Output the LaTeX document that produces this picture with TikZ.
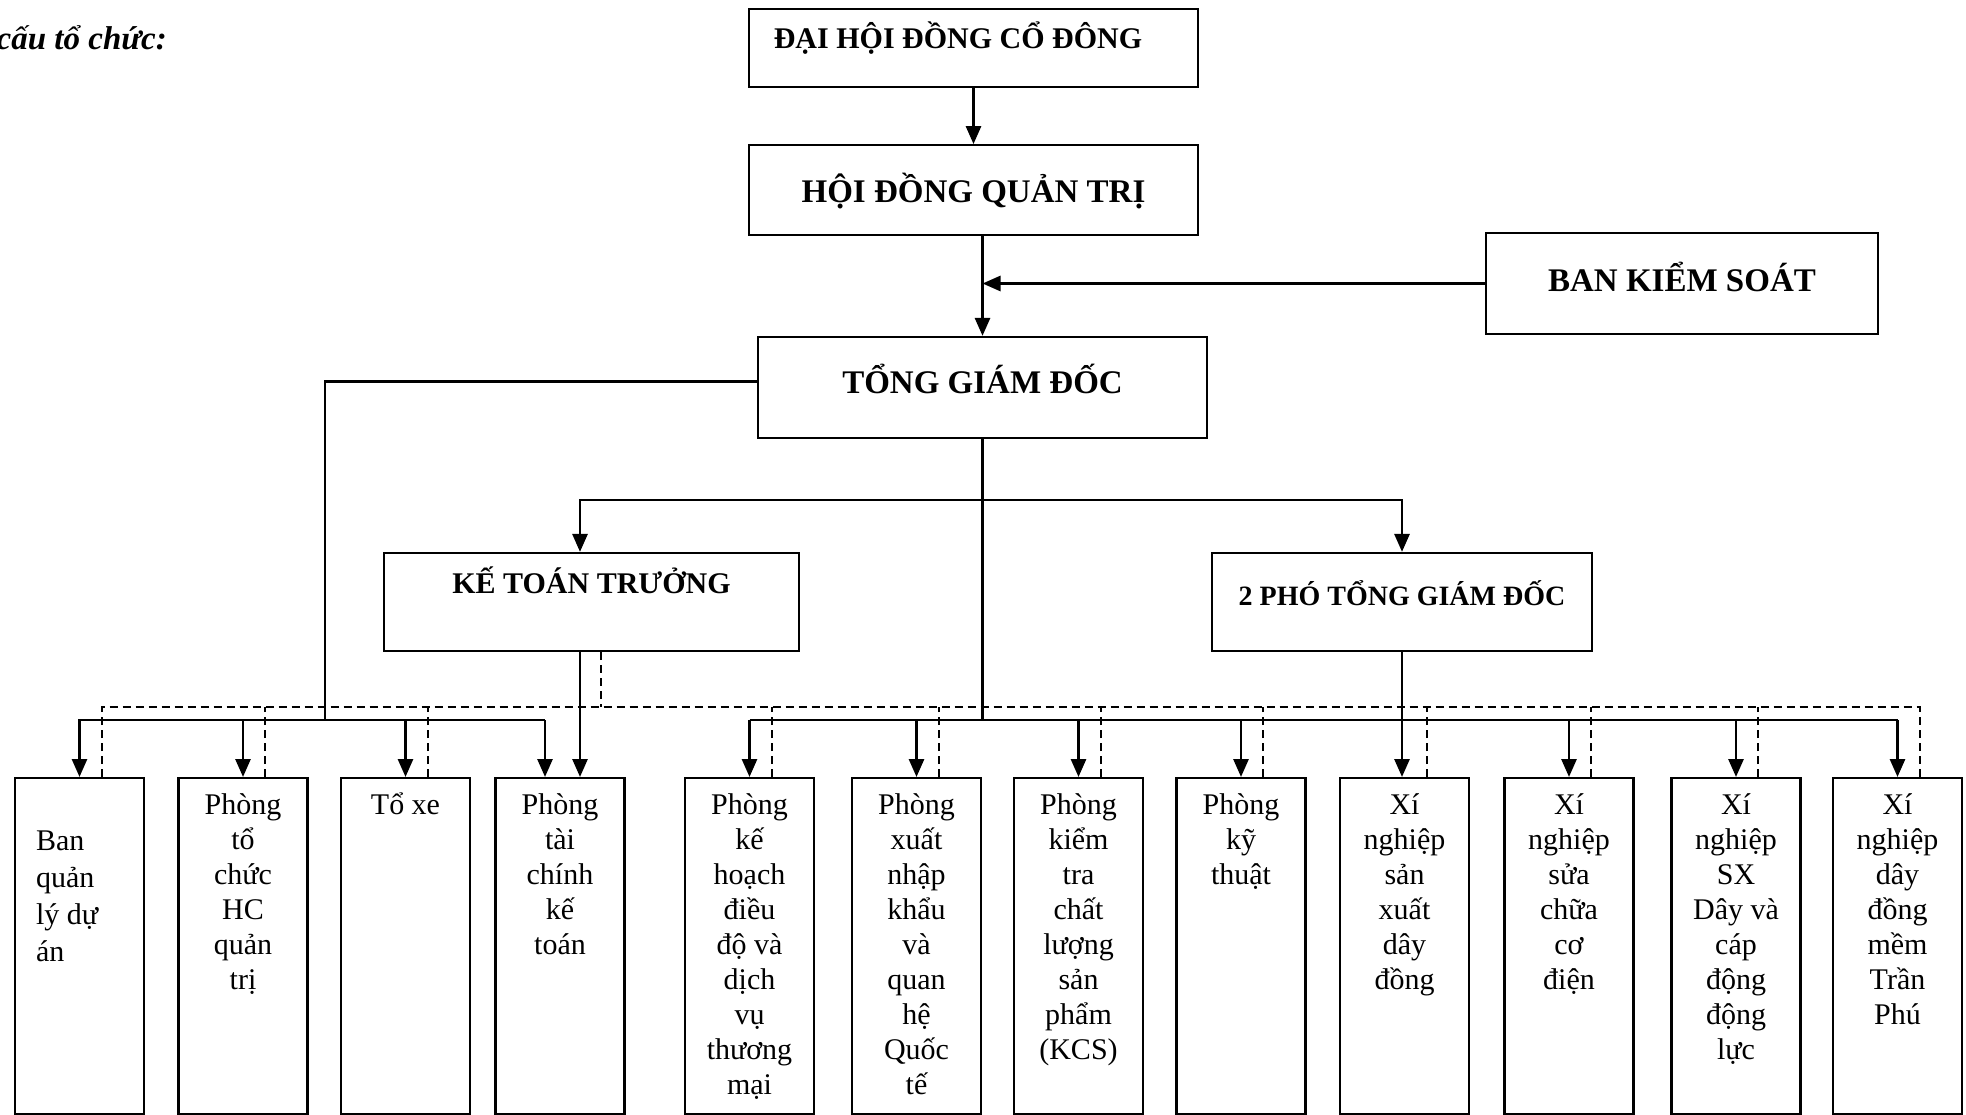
\documentclass[tikz,border=0pt]{standalone}
\usepackage{fontspec}
\setmainfont{Liberation Serif}
\usetikzlibrary{arrows.meta, positioning}

\newcommand{\dept}[1]{\parbox[t]{129pt}{\centering #1}}

\begin{document}
\begin{tikzpicture}[
  x=1pt, y=-1pt,
  box/.style={draw=black, line width=2.2pt, inner sep=0pt},
  deptbox/.style={draw=black, line width=2.2pt, inner sep=0pt, anchor=north,
                  text height=36pt, text depth=300pt, font=\fontsize{30}{35}\selectfont},
  lnk/.style={draw=black, line width=2.2pt},
  arr/.style={draw=black, line width=2.8pt, -{Triangle[length=18pt,width=15pt]}},
  dsh/.style={draw=black, line width=2pt, dash pattern=on 8pt off 5pt},
  ttl/.style={font=\fontsize{33}{38}\selectfont\bfseries\itshape, anchor=base east, inner sep=0pt}
]
\useasboundingbox (0,0) rectangle (1966,1115);

%--------------------------------------------------------------
% Titolo e vertice
%--------------------------------------------------------------
\node[ttl] (title) at (167,50) {cấu tổ chức:};

\node[box, minimum width=449pt, text height=40pt, text depth=38pt,
      font=\fontsize{30}{36}\selectfont\bfseries] (dhcd) at (973.5,48)
  {ĐẠI HỘI ĐỒNG CỔ ĐÔNG\hspace*{31pt}};

\node[box, minimum width=449pt, text height=57pt, text depth=33pt,
      font=\fontsize{33}{38}\selectfont\bfseries, below=56pt of dhcd] (hdqt)
  {HỘI ĐỒNG QUẢN TRỊ};

\node[box, minimum width=392pt, text height=59pt, text depth=42pt,
      font=\fontsize{33}{38}\selectfont\bfseries] (bks) at (1682,283.5)
  {BAN KIỂM SOÁT};

\node[box, minimum width=449pt, text height=57pt, text depth=44pt,
      font=\fontsize{33}{38}\selectfont\bfseries] (tgd) at (982.5,387.5)
  {TỔNG GIÁM ĐỐC};

\node[box, minimum width=415pt, text height=40pt, text depth=58pt,
      font=\fontsize{30}{36}\selectfont\bfseries] (ktt) at (591.5,602)
  {KẾ TOÁN TRƯỞNG};

\node[box, minimum width=380pt, text height=52pt, text depth=46pt,
      font=\fontsize{28}{34}\selectfont\bfseries] (ptgd) at (1402,602)
  {2 PHÓ TỔNG GIÁM ĐỐC};

%--------------------------------------------------------------
% Phòng ban e xí nghiệp
%--------------------------------------------------------------
\node[deptbox, text height=72pt, text depth=264pt] (d1) at (79.5,777)
  {\parbox[t]{129pt}{\raggedright\leftskip=21pt Ban\\[2pt] quản\\[2pt] lý dự\\[2pt] án}};
\node[deptbox] (d2) at (243,777) {\dept{Phòng\\ tổ\\ chức\\ HC\\ quản\\ trị}};
\node[deptbox] (d3) at (405.5,777) {\dept{Tổ xe}};
\node[deptbox] (d4) at (560,777) {\dept{Phòng\\ tài\\ chính\\ kế\\ toán}};
\node[deptbox] (d5) at (749.5,777)
  {\dept{Phòng\\ kế\\ hoạch\\ điều\\ độ và\\ dịch\\ vụ\\ thương\\ mại}};
\node[deptbox] (d6) at (916.5,777)
  {\dept{Phòng\\ xuất\\ nhập\\ khẩu\\ và\\ quan\\ hệ\\ Quốc\\ tế}};
\node[deptbox] (d7) at (1078.5,777)
  {\dept{Phòng\\ kiểm\\ tra\\ chất\\ lượng\\ sản\\ phẩm\\ (KCS)}};
\node[deptbox] (d8) at (1241,777) {\dept{Phòng\\ kỹ\\ thuật}};
\node[deptbox] (d9) at (1404.5,777) {\dept{Xí\\ nghiệp\\ sản\\ xuất\\ dây\\ đồng}};
\node[deptbox] (d10) at (1569,777) {\dept{Xí\\ nghiệp\\ sửa\\ chữa\\ cơ\\ điện}};
\node[deptbox] (d11) at (1736,777)
  {\dept{Xí\\ nghiệp\\ SX\\ Dây và\\ cáp\\ động\\ động\\ lực}};
\node[deptbox] (d12) at (1897.5,777)
  {\dept{Xí\\ nghiệp\\ dây\\ đồng\\ mềm\\ Trần\\ Phú}};

%--------------------------------------------------------------
% Punti di appoggio
%--------------------------------------------------------------
\coordinate (sbus) at (0,720);   % linea continua
\coordinate (dbus) at (0,707);   % linea tratteggiata
\coordinate (br) at (0,500);     % ramo verso KTT e PTGĐ
\coordinate (lft) at (325,720);
\coordinate (kin) at (580,0);
\coordinate (d4l) at (545,0);
\coordinate (kd) at (601,0);

%--------------------------------------------------------------
% Collegamenti
%--------------------------------------------------------------
\draw[arr] (dhcd.south) -- (hdqt.north);
\draw[arr] (tgd.north |- hdqt.south) -- (tgd.north);
\draw[arr] (bks.west) -- (bks.west -| tgd.north);

\draw[lnk] ([yshift=6pt]tgd.west) -| (lft);
\draw[lnk] (tgd.south) -- (tgd.south |- sbus);
\draw[arr] (tgd.south |- br) -| (kin |- ktt.north);
\draw[arr] (tgd.south |- br) -| (ptgd.north);

% bus sinistro
\draw[arr] (d4l |- sbus) -| (d1.north);
\draw[arr] (d2.north |- sbus) -- (d2.north);
\draw[arr] (d3.north |- sbus) -- (d3.north);
\draw[arr] (d4l |- sbus) -- (d4l |- d4.north);
\draw[arr] (kin |- ktt.south) -- (kin |- d4.north);

% bus destro
\draw[arr, -] (d5.north |- sbus) -- (d12.north |- sbus);
\draw[arr] (d5.north |- sbus) -- (d5.north);
\draw[arr] (d6.north |- sbus) -- (d6.north);
\draw[arr] (d7.north |- sbus) -- (d7.north);
\draw[arr] (d8.north |- sbus) -- (d8.north);
\draw[arr] (ptgd.south) -- (ptgd.south |- d9.north);
\draw[arr] (d10.north |- sbus) -- (d10.north);
\draw[arr] (d11.north |- sbus) -- (d11.north);
\draw[arr] (d12.north |- sbus) -- (d12.north);

% linee tratteggiate
\draw[dsh] (kd |- ktt.south) -- (kd |- dbus);
\draw[dsh] ([xshift=22pt]d1.north) -- ++(0,-70) -| ([xshift=22pt]d12.north);
\draw[dsh] ([xshift=22pt]d2.north) -- ++(0,-70);
\draw[dsh] ([xshift=22pt]d3.north) -- ++(0,-70);
\draw[dsh] ([xshift=22pt]d5.north) -- ++(0,-70);
\draw[dsh] ([xshift=22pt]d6.north) -- ++(0,-70);
\draw[dsh] ([xshift=22pt]d7.north) -- ++(0,-70);
\draw[dsh] ([xshift=22pt]d8.north) -- ++(0,-70);
\draw[dsh] ([xshift=22pt]d9.north) -- ++(0,-70);
\draw[dsh] ([xshift=22pt]d10.north) -- ++(0,-70);
\draw[dsh] ([xshift=22pt]d11.north) -- ++(0,-70);

\end{tikzpicture}
\end{document}
